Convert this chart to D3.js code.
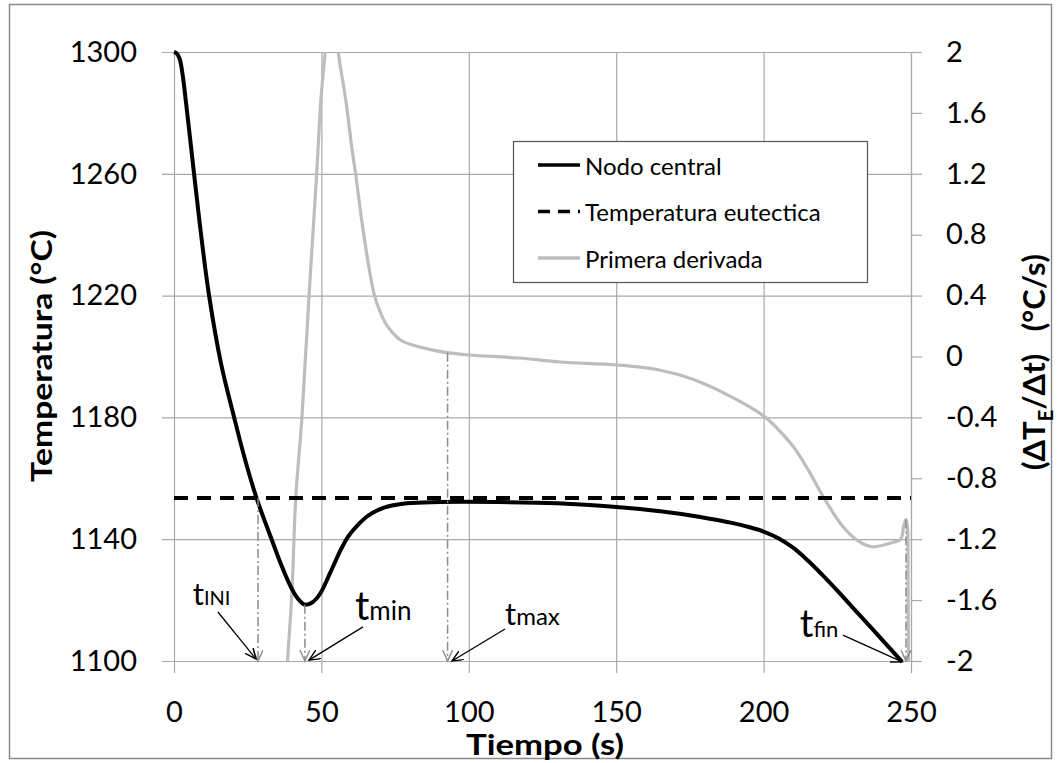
<!DOCTYPE html>
<html><head><meta charset="utf-8">
<script src="https://cdn.jsdelivr.net/npm/d3@7"></script>
<style>
body{margin:0;background:#fff;}
text{font-family:Lato,"Open Sans",sans-serif;fill:#000;}
</style></head><body>
<svg id="chart" width="1057" height="763"></svg>
<script>
// cooling curve of the central node (left axis, °C)
const tempTime  = [0, 1, 2, 3, 4, 5.3, 6.8, 9, 11.9, 16, 20.4, 24, 28, 33.1, 36, 39.3, 42, 44.4, 47, 49.5, 53, 56.3, 59, 62, 66, 71, 79, 90, 110, 130, 150, 165, 178, 190, 195, 200, 205, 210, 215, 220, 225, 230, 235, 240, 247];
const tempValue = [1300, 1299.5, 1297.5, 1292, 1284, 1273, 1260, 1241.5, 1220, 1197.5, 1180, 1166.5, 1153.5, 1140, 1132.5, 1125, 1120.5, 1118.5, 1119.3, 1122, 1129, 1136, 1140.8, 1144.3, 1147.8, 1150.3, 1151.8, 1152.2, 1152.2, 1151.8, 1150.6, 1149.2, 1147.4, 1145.2, 1144, 1142.5, 1140.3, 1137.2, 1133, 1128.2, 1123.1, 1117.8, 1112.5, 1107.2, 1099.7];
// first derivative (right axis, °C/s)
const derivTime  = [34, 36, 38.5, 40, 41.3, 43.4, 45.8, 48.4, 49.8, 51.3, 53.5, 55.7, 58.3, 60.4, 61.6, 64, 66, 68, 70, 72, 74, 76.7, 80, 86, 92.6, 100, 117, 131, 150.3, 165, 176, 189.6, 200, 205, 210, 215, 220.2, 227, 232.7, 237, 244, 246.5, 247.5, 248.3, 248.8, 249, 249.2];
const derivValue = [-3.5, -2.8, -2, -1.55, -0.93, -0.4, 0.4, 1.2, 1.68, 2, 2.4, 2, 1.68, 1.36, 1.2, 0.85, 0.6, 0.4, 0.29, 0.21, 0.16, 0.11, 0.08, 0.05, 0.025, 0.01, -0.01, -0.036, -0.056, -0.09, -0.15, -0.27, -0.39, -0.48, -0.59, -0.74, -0.92, -1.12, -1.22, -1.25, -1.22, -1.2, -1.12, -1.07, -1.12, -1.5, -2.3];
const eutecticTemp = 1153.5;

const xTicks = [0, 50, 100, 150, 200, 250];
const leftTicks = [1100, 1140, 1180, 1220, 1260, 1300];
const rightTicks = [-2, -1.6, -1.2, -0.8, -0.4, 0, 0.4, 0.8, 1.2, 1.6, 2];
const legendLabels = ["Nodo central", "Temperatura eutectica", "Primera derivada"];

// characteristic times: vertical dash-dot markers
const markTimes = [28.5, 44.4, 92.8, 248.3];
const markFrom  = [1153.5, 1118.5, 0.025, -1.07];
const markAxis  = ["T", "T", "D", "D"];
// annotation labels t_INI, t_min, t_max, t_fin
const labelSub  = ["INI", "min", "max", "fin"];
const labelAt   = [[6.4, 1118.4], [61.4, 1113.5], [112.3, 1111.8], [212.3, 1107.9]];
const arrowFrom = [[14.9, 1116.1], [64.1, 1111.2], [112.3, 1110.5], [226.9, 1108.5]];
const arrowTo   = [[27.8, 1100.7], [45.8, 1100.3], [94.3, 1100], [247, 1099.7]];

const pLeft = 174, pRight = 911, pTop = 52, pBottom = 661;
const svg = d3.select("#chart");

const x = d3.scaleLinear().domain([0, 250]).range([pLeft, pRight]);
const yT = d3.scaleLinear().domain([1100, 1300]).range([pBottom, pTop]);
const yD = d3.scaleLinear().domain([-2, 2]).range([pBottom, pTop]);

// outer frame
svg.append("rect").attr("x", 9.5).attr("y", 4.5).attr("width", 1042).attr("height", 754)
  .attr("fill", "none").attr("stroke", "#8a8a8a").attr("stroke-width", 1.5);

const defs = svg.append("defs");
defs.append("clipPath").attr("id", "plotClip").append("rect")
  .attr("x", pLeft).attr("y", pTop).attr("width", pRight - pLeft).attr("height", pBottom - pTop);
function marker(id, col) {
  defs.append("marker").attr("id", id).attr("markerUnits", "userSpaceOnUse")
    .attr("markerWidth", 14).attr("markerHeight", 12).attr("refX", 11).attr("refY", 5)
    .attr("orient", "auto")
    .append("path").attr("d", "M0,0 L11,5 L0,10").attr("fill", "none")
    .attr("stroke", col).attr("stroke-width", 1.4);
}
marker("arrBlack", "#000");
marker("arrGray", "#8c8c8c");

const gridCol = "#a9a9a9";
const fmt = d => String(d);

// left axis + horizontal grid
const gl = svg.append("g").attr("transform", "translate(" + (pLeft - 12) + ",0)")
  .call(d3.axisLeft(yT).tickValues(leftTicks).tickSize(-(pRight - pLeft + 12)).tickPadding(25).tickFormat(fmt));
gl.select(".domain").remove();
gl.selectAll("line").attr("stroke", gridCol).attr("stroke-width", 1.2);
gl.selectAll("text").style("font-size", "29px");

// x axis + vertical grid
const gx = svg.append("g").attr("transform", "translate(0," + (pBottom + 12) + ")")
  .call(d3.axisBottom(x).tickValues(xTicks).tickSize(-(pBottom + 12 - pTop)).tickPadding(28).tickFormat(fmt));
gx.select(".domain").remove();
gx.selectAll("line").attr("stroke", gridCol).attr("stroke-width", 1.2);
gx.selectAll("text").style("font-size", "29px");

// right axis
const gr = svg.append("g").attr("transform", "translate(" + pRight + ",0)")
  .call(d3.axisRight(yD).tickValues(rightTicks).tickSizeInner(11).tickSizeOuter(0)
    .tickPadding(24).tickFormat(fmt));
gr.select(".domain").attr("stroke", gridCol).attr("stroke-width", 1.2);
gr.selectAll("line").attr("stroke", gridCol).attr("stroke-width", 1.2);
gr.selectAll("text").style("font-size", "29px");

// series
const plot = svg.append("g").attr("clip-path", "url(#plotClip)");
const derivLine = d3.line().x((d, i) => x(derivTime[i])).y(d => yD(d)).curve(d3.curveCatmullRom.alpha(0.5));
plot.append("path").attr("d", derivLine(derivValue)).attr("fill", "none")
  .attr("stroke", "#bdbdbd").attr("stroke-width", 3.2).attr("stroke-linejoin", "round");

const tempLine = d3.line().x((d, i) => x(tempTime[i])).y(d => yT(d)).curve(d3.curveCatmullRom.alpha(0.5));
svg.append("path").attr("d", tempLine(tempValue)).attr("fill", "none")
  .attr("stroke", "#000").attr("stroke-width", 4).attr("stroke-linejoin", "round");

svg.append("line").attr("x1", x(0)).attr("x2", x(250))
  .attr("y1", yT(eutecticTemp)).attr("y2", yT(eutecticTemp))
  .attr("stroke", "#000").attr("stroke-width", 4).attr("stroke-dasharray", "14,9");

// dash-dot markers
markTimes.forEach((t, i) => {
  const y0 = markAxis[i] === "T" ? yT(markFrom[i]) : yD(markFrom[i]);
  svg.append("line").attr("x1", x(t)).attr("x2", x(t)).attr("y1", y0).attr("y2", pBottom)
    .attr("stroke", "#8c8c8c").attr("stroke-width", 1.5)
    .attr("stroke-dasharray", "9,3,2,3").attr("marker-end", "url(#arrGray)");
});

// annotations
const tSize = [31, 40, 31, 38], subSize = [20, 26, 24, 22];
labelSub.forEach((s, i) => {
  const t = svg.append("text").attr("x", x(labelAt[i][0])).attr("y", yT(labelAt[i][1]));
  t.append("tspan").style("font-size", tSize[i] + "px").text("t");
  t.append("tspan").style("font-size", subSize[i] + "px").text(s);
  svg.append("line")
    .attr("x1", x(arrowFrom[i][0])).attr("y1", yT(arrowFrom[i][1]))
    .attr("x2", x(arrowTo[i][0])).attr("y2", yT(arrowTo[i][1]))
    .attr("stroke", "#000").attr("stroke-width", 1.3).attr("marker-end", "url(#arrBlack)");
});

// legend
const lg = svg.append("g");
lg.append("rect").attr("x", 513.5).attr("y", 141.5).attr("width", 354).attr("height", 141)
  .attr("fill", "#fff").attr("stroke", "#555").attr("stroke-width", 1.2);
const legStyle = [["#000", null], ["#000", "12,8"], ["#bdbdbd", null]];
legendLabels.forEach((lab, i) => {
  const yy = 165 + i * 46.5;
  lg.append("line").attr("x1", 538).attr("x2", 580).attr("y1", yy).attr("y2", yy)
    .attr("stroke", legStyle[i][0]).attr("stroke-width", 3.5)
    .attr("stroke-dasharray", legStyle[i][1]);
  lg.append("text").attr("x", 585).attr("y", yy).attr("dominant-baseline", "central")
    .style("font-size", "24px").text(lab);
});

// axis titles
svg.append("text").attr("x", 545).attr("y", 755).attr("text-anchor", "middle")
  .attr("textLength", 158).attr("lengthAdjust", "spacingAndGlyphs")
  .style("font-size", "29px").style("font-weight", "bold").text("Tiempo (s)");
svg.append("text").attr("transform", "translate(40,356) rotate(-90)")
  .attr("text-anchor", "middle").attr("dominant-baseline", "central")
  .attr("textLength", 252).attr("lengthAdjust", "spacingAndGlyphs")
  .style("font-size", "29px").style("font-weight", "bold").text("Temperatura (°C)");
const rt = svg.append("text").attr("transform", "translate(1033,362) rotate(-90)")
  .attr("text-anchor", "middle").attr("dominant-baseline", "central")
  .style("font-size", "31px").style("font-weight", "bold");
rt.append("tspan").text("(ΔT");
rt.append("tspan").attr("baseline-shift", "sub").style("font-size", "20px").text("E");
rt.append("tspan").text("/Δt)\u00a0\u00a0\u00a0(°C/s)");
</script>
</body></html>
